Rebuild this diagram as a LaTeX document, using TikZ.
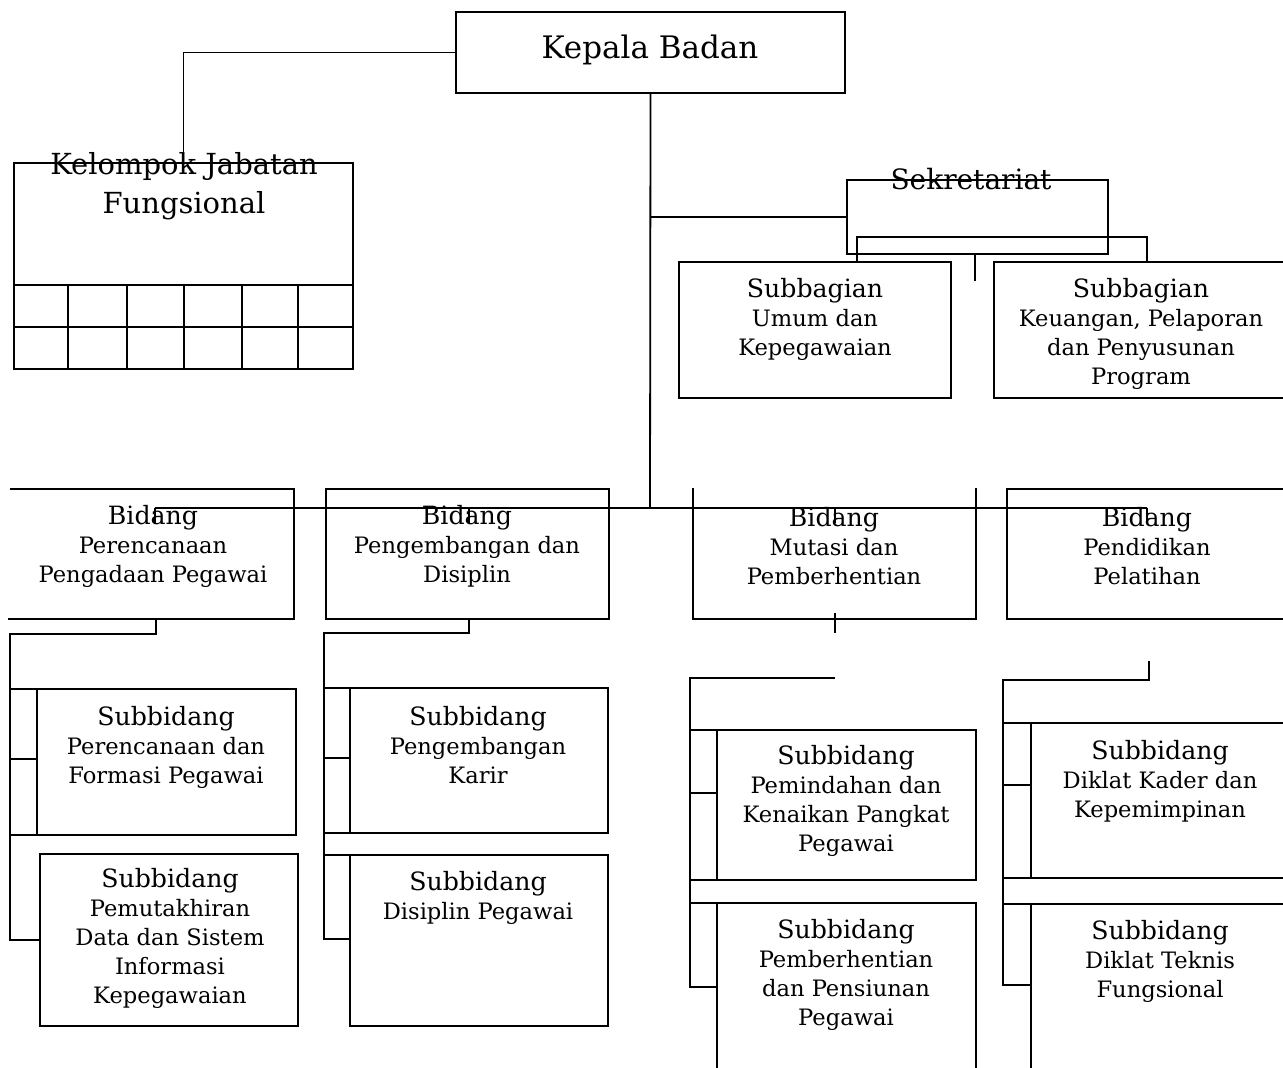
\documentclass[tikz,border=0pt]{standalone}
\usepackage{fontspec}
\setmainfont{DejaVu Serif}
\newcommand\hd[1]{{\fontsize{12.6}{14.5}\selectfont #1}}
\begin{document}
\begin{tikzpicture}[x=0.5pt,y=-0.5pt,
  line width=0.9pt,
  box/.style={draw, line width=0.9pt, inner sep=0pt, outer sep=0pt},
  lbl/.style={align=center, inner sep=0pt, font=\fontsize{11.3}{14.5}\selectfont},
  big/.style={align=center, inner sep=0pt, font=\fontsize{14.5}{17}\selectfont}]
\useasboundingbox[fill=white] (0,0) rectangle (1283,1068);

% full boxes
\node[box, minimum width=194.5pt, minimum height=40.5pt] (kepala) at (650.5,52.5) {};
\node[box, minimum width=130.5pt, minimum height=37pt] (sek) at (977.5,217) {};
\node[box, minimum width=136pt, minimum height=68pt] (umum) at (815,330) {};
\node[box, minimum width=169.5pt, minimum height=61pt] (kel) at (183.5,224) {};
\node[box, minimum width=129pt, minimum height=86pt] (subB) at (169,940) {};

% texts
\node[big, font=\fontsize{15.5}{18}\selectfont] (tkepala) at (650,50) {Kepala Badan};
\node[big] (tkel) at (184,186) {Kelompok Jabatan\\[2.5pt]Fungsional};
\node[big, font=\fontsize{14}{17}\selectfont] (tsek) at (971,179) {Sekretariat};
\node[lbl] (tumum) at (815,319) {\hd{Subbagian}\\Umum dan\\Kepegawaian};
\node[lbl] (tkeu) at (1141,334) {\hd{Subbagian}\\Keuangan, Pelaporan\\dan Penyusunan\\Program};
\node[lbl] (tb1) at (153,546) {\hd{Bidang}\\Perencanaan\\Pengadaan Pegawai};
\node[lbl] (tb2) at (467,546) {\hd{Bidang}\\Pengembangan dan\\Disiplin};
\node[lbl] (tb3) at (834,546) {\hd{Bidang}\\Mutasi dan\\Pemberhentian};
\node[lbl] (tb4) at (1147,546) {\hd{Bidang}\\Pendidikan\\Pelatihan};
\node[lbl] (tsA) at (166,747) {\hd{Subbidang}\\Perencanaan dan\\Formasi Pegawai};
\node[lbl] (tsB) at (170,938) {\hd{Subbidang}\\Pemutakhiran\\Data dan Sistem\\Informasi\\Kepegawaian};
\node[lbl] (tsC) at (478,745) {\hd{Subbidang}\\Pengembangan\\Karir};
\node[lbl] (tsD) at (478,898) {\hd{Subbidang}\\Disiplin Pegawai};
\node[lbl] (tsE) at (846,801) {\hd{Subbidang}\\Pemindahan dan\\Kenaikan Pangkat\\Pegawai};
\node[lbl] (tsF) at (846,975) {\hd{Subbidang}\\Pemberhentian\\dan Pensiunan\\Pegawai};
\node[lbl] (tsG) at (1160,781) {\hd{Subbidang}\\Diklat Kader dan\\Kepemimpinan};
\node[lbl] (tsH) at (1160,961) {\hd{Subbidang}\\Diklat Teknis\\Fungsional};

% Kelompok grid
\draw (14,285) -- (14,369) -- (353,369) -- (353,285);
\draw (14,327) -- (353,327);
\foreach \c in {68,127,184,242,298} \draw (\c,285) -- (\c,369);

% Keuangan box (open right)
\draw (1283,262) -- (994,262) -- (994,398) -- (1283,398);

% connectors top
\coordinate (hub) at (650,508);
\draw (kepala.west) -| (kel.north);
\draw (kepala.south) -- (hub);
\draw (650,217) -- (sek.west);
\draw (857,262) -- (857,237) -- (1147,237) -- (1147,262);
\draw (975,254) -- (975,281);

% Bidang boxes
\draw (10,489) -- (294,489) -- (294,619) -- (8,619);
\draw (326,489) rectangle (609,619);
\draw (693,488) -- (693,619) -- (976,619) -- (976,488);
\draw (1283,489) -- (1007,489) -- (1007,619) -- (1283,619);
\draw (155,508) -- (1147,508);
\foreach \c in {155,469,835,1147} \draw (\c,508) -- (\c,523);

% column 1
\draw (156,618) -- (156,634) -- (10,634) -- (10,940) -- (subB.west);
\draw (10,689) -- (296,689) -- (296,835) -- (10,835);
\draw (37,689) -- (37,835);
\draw (10,759) -- (37,759);

% column 2
\draw (469,618) -- (469,633) -- (324,633) -- (324,939) -- (350,939);
\draw (324,688) -- (608,688) -- (608,833) -- (324,833);
\draw (350,688) -- (350,833);
\draw (324,758) -- (350,758);
\draw (324,855) -- (608,855) -- (608,1026) -- (350,1026) -- (350,855);

% column 3
\draw (835,613) -- (835,633);
\draw (835,678) -- (690,678) -- (690,987) -- (717,987);
\draw (690,730) -- (976,730) -- (976,880) -- (690,880);
\draw (717,730) -- (717,880);
\draw (690,793) -- (717,793);
\draw (690,903) -- (976,903) -- (976,1068);
\draw (717,903) -- (717,1068);

% column 4
\draw (1149,661) -- (1149,680) -- (1003,680) -- (1003,985) -- (1031,985);
\draw (1003,723) -- (1283,723);
\draw (1003,878) -- (1283,878);
\draw (1031,723) -- (1031,878);
\draw (1003,785) -- (1031,785);
\draw (1003,904) -- (1283,904);
\draw (1031,904) -- (1031,1068);
\end{tikzpicture}
\end{document}
